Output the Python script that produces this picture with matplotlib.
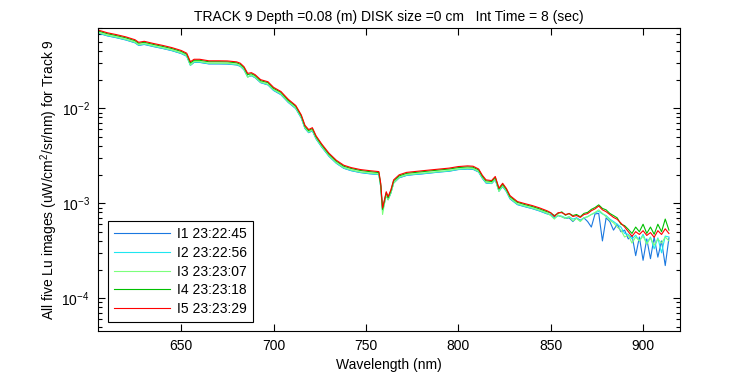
import matplotlib
matplotlib.use("Agg")
import matplotlib.pyplot as plt
import numpy as np

plt.rcParams['font.family'] = ['Liberation Sans', 'DejaVu Sans']
plt.rcParams['mathtext.default'] = 'regular'

wavelength = [605, 610, 615, 620, 625, 627, 630, 635, 640, 645,
              650, 653, 655, 657, 660, 665, 670, 675, 680, 682,
              684, 686, 688, 690, 693, 697, 700, 704, 708, 712,
              715, 717, 719, 721, 723, 726, 730, 734, 738, 742,
              747, 752, 757, 758, 759, 760, 761, 762, 763.5, 765,
              768, 772, 776, 780, 785, 790, 795, 800, 805, 808,
              811, 813, 815, 818, 820, 822, 824, 826, 828, 832,
              836, 840, 844, 848,
              850, 852, 854, 856, 858, 860, 862, 864, 866, 868,
              870, 872, 874, 876, 878, 880, 882, 884, 886, 888,
              890, 892, 894, 896, 898, 900, 902, 904, 906, 908,
              910, 912, 914]

i1 = [0.0619, 0.0579, 0.0553, 0.0524, 0.0489, 0.0459, 0.0470, 0.0446, 0.0426, 0.0404,
      0.0377, 0.0353, 0.0284, 0.0304, 0.0304, 0.0293, 0.0293, 0.0292, 0.0286, 0.0277,
      0.0254, 0.0214, 0.0220, 0.0210, 0.0186, 0.0176, 0.0154, 0.0139, 0.0115, 0.00993,
      0.00790, 0.00613, 0.00553, 0.00579, 0.00476, 0.00392, 0.00312, 0.00263, 0.00233, 0.00220,
      0.00210, 0.00204, 0.00200, 0.00150, 0.000830, 0.00100, 0.00122, 0.00109, 0.00128, 0.00163,
      0.00185, 0.00196, 0.00200, 0.00203, 0.00208, 0.00213, 0.00217, 0.00226, 0.00229, 0.00227,
      0.00213, 0.00183, 0.00163, 0.00161, 0.00177, 0.00134, 0.00150, 0.00133, 0.00111, 0.000965,
      0.000918, 0.000876, 0.000827, 0.000772,
      0.00076, 0.00070, 0.00074, 0.00072, 0.00069, 0.00070, 0.00064, 0.00070, 0.00066, 0.00070,
      0.00064, 0.00056, 0.00077, 0.00078, 0.00040, 0.00070, 0.00064, 0.00052, 0.00060, 0.00050,
      0.00052, 0.00042, 0.00046, 0.00028, 0.00044, 0.00025, 0.00042, 0.00026, 0.00044, 0.00027,
      0.00040, 0.00022, 0.00043]

i2 = [0.0622, 0.0582, 0.0556, 0.0527, 0.0492, 0.0462, 0.0473, 0.0449, 0.0428, 0.0406,
      0.0379, 0.0355, 0.0283, 0.0306, 0.0306, 0.0295, 0.0295, 0.0294, 0.0287, 0.0278,
      0.0256, 0.0215, 0.0221, 0.0211, 0.0187, 0.0177, 0.0155, 0.0140, 0.0116, 0.00998,
      0.00794, 0.00617, 0.00556, 0.00582, 0.00479, 0.00394, 0.00313, 0.00264, 0.00234, 0.00221,
      0.00211, 0.00205, 0.00201, 0.00151, 0.000830, 0.00101, 0.00123, 0.00109, 0.00129, 0.00164,
      0.00186, 0.00197, 0.00201, 0.00204, 0.00209, 0.00214, 0.00218, 0.00227, 0.00230, 0.00229,
      0.00214, 0.00184, 0.00164, 0.00161, 0.00178, 0.00134, 0.00151, 0.00133, 0.00112, 0.000970,
      0.000923, 0.000881, 0.000831, 0.000776,
      0.000750, 0.000700, 0.000740, 0.000730, 0.000700, 0.000720, 0.000680, 0.000700, 0.000650, 0.000700,
      0.000720, 0.000760, 0.000790, 0.000820, 0.000770, 0.000740, 0.000680, 0.000640, 0.000600, 0.000560,
      0.000480, 0.000470, 0.000420, 0.000460, 0.000400, 0.000470, 0.000380, 0.000440, 0.000330, 0.000430,
      0.000300, 0.000450, 0.000440]

i3 = [0.0630, 0.0589, 0.0563, 0.0533, 0.0497, 0.0467, 0.0479, 0.0454, 0.0433, 0.0411,
      0.0383, 0.0359, 0.0285, 0.0310, 0.0310, 0.0298, 0.0298, 0.0297, 0.0291, 0.0281,
      0.0259, 0.0212, 0.0224, 0.0213, 0.0189, 0.0179, 0.0157, 0.0142, 0.0117, 0.0101,
      0.00803, 0.00624, 0.00563, 0.00589, 0.00484, 0.00398, 0.00317, 0.00267, 0.00237, 0.00224,
      0.00213, 0.00208, 0.00203, 0.00150, 0.000760, 0.000980, 0.00123, 0.00108, 0.00128, 0.00163,
      0.00188, 0.00199, 0.00203, 0.00207, 0.00211, 0.00216, 0.00221, 0.00229, 0.00233, 0.00231,
      0.00216, 0.00186, 0.00166, 0.00163, 0.00180, 0.00133, 0.00153, 0.00135, 0.00113, 0.000982,
      0.000934, 0.000891, 0.000841, 0.000785,
      0.000740, 0.000680, 0.000750, 0.000720, 0.000690, 0.000720, 0.000650, 0.000690, 0.000640, 0.000700,
      0.000720, 0.000760, 0.000800, 0.000850, 0.000780, 0.000720, 0.000660, 0.000620, 0.000560, 0.000520,
      0.000440, 0.000460, 0.000380, 0.000440, 0.000400, 0.000450, 0.000370, 0.000430, 0.000360, 0.000420,
      0.000380, 0.000440, 0.000400]

i4 = [0.0652, 0.0610, 0.0582, 0.0552, 0.0515, 0.0484, 0.0495, 0.0470, 0.0448, 0.0425,
      0.0397, 0.0371, 0.0300, 0.0320, 0.0320, 0.0309, 0.0309, 0.0308, 0.0301, 0.0291,
      0.0268, 0.0226, 0.0231, 0.0221, 0.0195, 0.0186, 0.0162, 0.0147, 0.0121, 0.0105,
      0.00831, 0.00646, 0.00582, 0.00610, 0.00501, 0.00412, 0.00328, 0.00277, 0.00245, 0.00232,
      0.00221, 0.00215, 0.00210, 0.00158, 0.000860, 0.00106, 0.00129, 0.00114, 0.00135, 0.00172,
      0.00194, 0.00206, 0.00210, 0.00214, 0.00219, 0.00224, 0.00229, 0.00237, 0.00241, 0.00239,
      0.00224, 0.00192, 0.00172, 0.00169, 0.00187, 0.00141, 0.00158, 0.00140, 0.00117, 0.00102,
      0.000966, 0.000922, 0.000870, 0.000813,
      0.000790, 0.000740, 0.000780, 0.000810, 0.000745, 0.000780, 0.000740, 0.000760, 0.000720, 0.000780,
      0.000800, 0.000860, 0.000900, 0.000960, 0.000880, 0.000850, 0.000780, 0.000740, 0.000700, 0.000600,
      0.000580, 0.000530, 0.000480, 0.000560, 0.000500, 0.000600, 0.000480, 0.000560, 0.000470, 0.000600,
      0.000500, 0.000680, 0.000520]

i5 = [0.0667, 0.0624, 0.0596, 0.0565, 0.0527, 0.0495, 0.0507, 0.0481, 0.0459, 0.0435,
      0.0406, 0.0380, 0.0309, 0.0328, 0.0328, 0.0316, 0.0316, 0.0315, 0.0308, 0.0298,
      0.0274, 0.0233, 0.0237, 0.0226, 0.0200, 0.0190, 0.0166, 0.0150, 0.0124, 0.0107,
      0.00851, 0.00661, 0.00596, 0.00624, 0.00513, 0.00422, 0.00336, 0.00283, 0.00251, 0.00237,
      0.00226, 0.00220, 0.00215, 0.00162, 0.000891, 0.00108, 0.00132, 0.00117, 0.00138, 0.00176,
      0.00199, 0.00211, 0.00215, 0.00219, 0.00224, 0.00229, 0.00234, 0.00243, 0.00247, 0.00245,
      0.00229, 0.00197, 0.00176, 0.00173, 0.00191, 0.00144, 0.00162, 0.00143, 0.00120, 0.00104,
      0.000989, 0.000944, 0.000891, 0.000832,
      0.000794, 0.000724, 0.000794, 0.000794, 0.000759, 0.000776, 0.000724, 0.000741, 0.000708, 0.000759,
      0.000776, 0.000832, 0.000871, 0.000933, 0.000851, 0.000813, 0.000759, 0.000708, 0.000676, 0.000617,
      0.000562, 0.000501, 0.000447, 0.000501, 0.000468, 0.000513, 0.000457, 0.000490, 0.000437, 0.000513,
      0.000468, 0.000537, 0.000479]

labels = ["I1 23:22:45", "I2 23:22:56", "I3 23:23:07", "I4 23:23:18", "I5 23:23:29"]
colors = ["#1a78e0", "#1ee6f0", "#7cff7c", "#00c000", "#ff0000"]

fig = plt.figure(figsize=(7.5, 3.75), dpi=100)
ax = fig.add_axes([0.1307, 0.1173, 0.776, 0.808])

for series, lab, col in zip([i1, i2, i3, i4, i5], labels, colors):
    ax.plot(wavelength, series, color=col, linewidth=0.8, label=lab)

ax.set_yscale('log')
ax.set_xlim(605, 920)
ax.set_ylim(4.5e-5, 0.07)
ax.set_xticks([650, 700, 750, 800, 850, 900])
ax.set_yticks([1e-4, 1e-3, 1e-2])

ax.tick_params(which='both', direction='in', top=True, right=True, labelsize=10)
ax.tick_params(which='major', length=5, width=0.8, pad=6)
ax.tick_params(which='minor', length=3, width=0.8)
for s in ax.spines.values():
    s.set_linewidth(0.8)

ax.set_title("TRACK 9 Depth =0.08 (m) DISK size =0 cm   Int Time = 8 (sec)", fontsize=10, pad=5)
ax.set_xlabel("Wavelength (nm)", fontsize=10, labelpad=3)
ax.set_ylabel("All five Lu images (uW/cm$^2$/sr/nm) for Track 9", fontsize=10, labelpad=1)

leg = ax.legend(loc='lower left', bbox_to_anchor=(0.017, 0.03), borderaxespad=0,
                fontsize=10, fancybox=False, edgecolor='k', framealpha=1,
                handlelength=4, handletextpad=0.5, labelspacing=0.33, borderpad=0.45)
leg.get_frame().set_linewidth(0.8)

fig.savefig("out.png", dpi=100)
